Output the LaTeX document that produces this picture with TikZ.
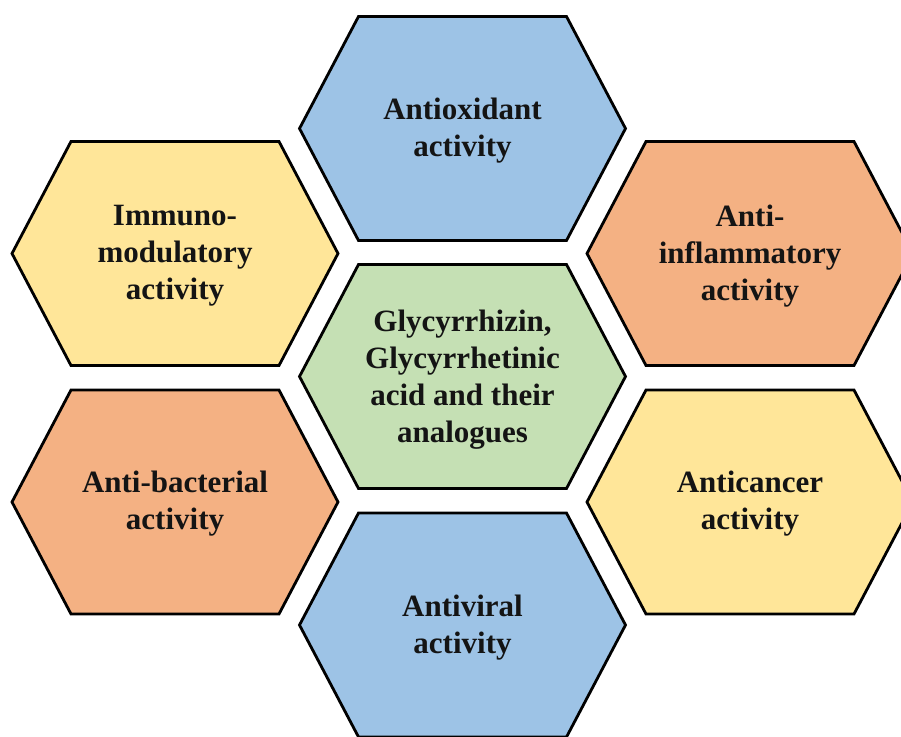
\documentclass[tikz,border=0pt]{standalone}
\usepackage{fontspec}
\setmainfont{Liberation Serif}
\definecolor{hexblue}{HTML}{9DC3E6}
\definecolor{hexorange}{HTML}{F4B183}
\definecolor{hexyellow}{HTML}{FFE699}
\definecolor{hexgreen}{HTML}{C5E0B4}
\definecolor{inkdark}{HTML}{141414}
\begin{document}
\begin{tikzpicture}[x=1pt,y=-1pt,
  hexline/.style={draw=black,line width=2.8pt,line join=miter},
  hexlabel/.style={align=center,text=inkdark,
    font=\fontsize{31}{37}\selectfont\bfseries},
  hexcell/.pic={\path[hexline,fill=#1] (-163,0) -- (-104,-112) -- (104,-112)
      -- (163,0) -- (104,112) -- (-104,112) -- cycle;}]
  \useasboundingbox (0,0) rectangle (901,736);
  \clip (0,0) rectangle (901,736);
  % honeycomb cells
  \pic at (462.5,128.5) {hexcell=hexblue};
  \pic at (175,253.5) {hexcell=hexyellow};
  \pic at (750,253.5) {hexcell=hexorange};
  \pic at (462.5,376.5) {hexcell=hexgreen};
  \pic at (175,502) {hexcell=hexorange};
  \pic at (750,502) {hexcell=hexyellow};
  \pic at (462.5,625) {hexcell=hexblue};
  % labels
  \node[hexlabel] (antiox) at (462.5,131) {Antioxidant\\activity};
  \node[hexlabel] (immuno) at (175,256) {Immuno-\\modulatory\\activity};
  \node[hexlabel] (inflam) at (750,256) {Anti-\\inflammatory\\activity};
  \node[hexlabel] (core) at (462.5,380) {Glycyrrhizin,\\Glycyrrhetinic\\acid and their\\analogues};
  \node[hexlabel] (bact) at (175,504) {Anti-bacterial\\activity};
  \node[hexlabel] (cancer) at (750,504) {Anticancer\\activity};
  \node[hexlabel] (viral) at (462.5,628) {Antiviral\\activity};
\end{tikzpicture}
\end{document}
